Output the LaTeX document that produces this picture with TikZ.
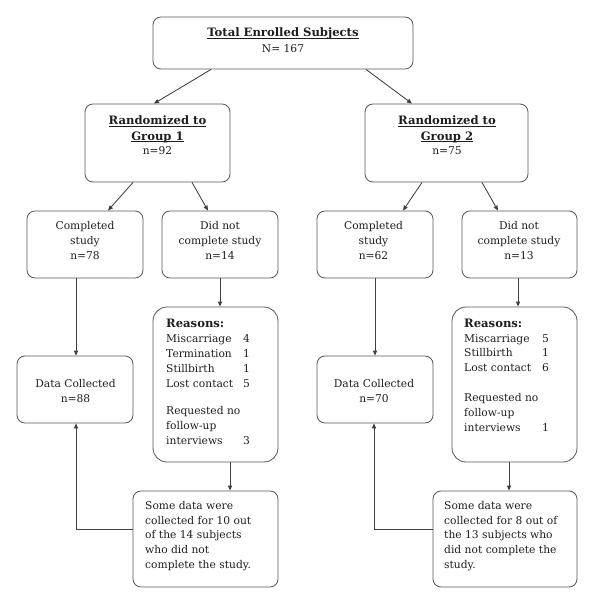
\documentclass[tikz,border=0pt]{standalone}
\usepackage{fontspec}
\setmainfont{DejaVu Serif}
\usetikzlibrary{arrows.meta,calc}
\definecolor{linecol}{HTML}{404040}
\definecolor{boxcol}{HTML}{5A5A5A}
\definecolor{txtcol}{HTML}{1E1E1E}
\newcommand\bigbold[1]{{\fontsize{11.6}{14.8}\selectfont\bfseries #1}}
\newcommand\ttlul[1]{\underline{\smash{\bigbold{#1}}}\vphantom{\bigbold{#1}}}
\begin{document}
\begin{tikzpicture}[x=1pt,y=-1pt,
  box/.style={draw=boxcol, line width=0.85pt, rounded corners=8pt, inner sep=0pt},
  txt/.style={inner sep=0pt, font=\fontsize{10.7}{14.8}\selectfont, text=txtcol, align=center},
  conn/.style={draw=linecol, line width=0.85pt, -{Triangle[length=5pt,width=4.2pt]}},
  plain/.style={draw=linecol, line width=0.85pt}]
\useasboundingbox[fill=white] (0,0) rectangle (600,611);
% boxes
\node[box, minimum width=260pt, minimum height=52pt] (tot) at (283,43) {};
\node[box, minimum width=145pt, minimum height=78pt] (g1) at (157.5,143) {};
\node[box, minimum width=163pt, minimum height=78pt] (g2) at (446.5,143) {};
\node[box, minimum width=116pt, minimum height=67pt] (c1) at (85,244.5) {};
\node[box, minimum width=116pt, minimum height=67pt] (d1) at (220,244.5) {};
\node[box, minimum width=116pt, minimum height=67pt] (c2) at (375,244.5) {};
\node[box, minimum width=115pt, minimum height=67pt] (d2) at (519.5,244.5) {};
\node[box, minimum width=125pt, minimum height=155pt, rounded corners=14pt] (r1) at (215.5,384.5) {};
\node[box, minimum width=125pt, minimum height=155pt, rounded corners=14pt] (r2) at (514.5,384.5) {};
\node[box, minimum width=116pt, minimum height=67pt] (dc1) at (75,389.5) {};
\node[box, minimum width=116pt, minimum height=67pt] (dc2) at (375,389.5) {};
\node[box, minimum width=145pt, minimum height=96pt] (s1) at (205.5,539) {};
\node[box, minimum width=144pt, minimum height=96pt] (s2) at (505,539) {};
% texts
\node[txt] (tott) at (283,40.5) {\ttlul{Total Enrolled Subjects}\\[1.5pt] N= 167};
\node[txt] (g1t) at (157.5,135.5) {\ttlul{Randomized to}\\[0.5pt] \ttlul{Group 1}\\ n=92};
\node[txt] (g2t) at (447,135.5) {\ttlul{Randomized to}\\[0.5pt] \ttlul{Group 2}\\ n=75};
\node[txt] (c1t) at (85,240.5) {Completed\\ study\\ n=78};
\node[txt] (d1t) at (220,240.5) {Did not\\ complete study\\ n=14};
\node[txt] (c2t) at (373.5,240.5) {Completed\\ study\\ n=62};
\node[txt] (d2t) at (519,240.5) {Did not\\ complete study\\ n=13};
\node[txt] (dc1t) at (75.5,391) {Data Collected\\ n=88};
\node[txt] (dc2t) at (374,391) {Data Collected\\ n=70};
\node[txt, align=left, anchor=west] (r1t) at (166,382) {\bigbold{Reasons:}\\
  \makebox[77pt][l]{Miscarriage}4\\
  \makebox[77pt][l]{Termination}1\\
  \makebox[77pt][l]{Stillbirth}1\\
  \makebox[77pt][l]{Lost contact}5\\[13pt]
  Requested no\\ follow-up\\
  \makebox[77pt][l]{interviews}3};
\node[txt, align=left, anchor=west] (r2t) at (464,375) {\bigbold{Reasons:}\\
  \makebox[78pt][l]{Miscarriage}5\\
  \makebox[78pt][l]{Stillbirth}1\\
  \makebox[78pt][l]{Lost contact}6\\[15pt]
  Requested no\\ follow-up\\
  \makebox[78pt][l]{interviews}1};
\node[txt, align=left, anchor=west] (s1t) at (145,536) {Some data were\\ collected for 10 out\\ of the 14 subjects\\ who did not\\ complete the study.};
\node[txt, align=left, anchor=west] (s2t) at (444,536) {Some data were\\ collected for 8 out of\\ the 13 subjects who\\ did not complete the\\ study.};
% connectors
\draw[conn] ([xshift=-72pt]tot.south) -- ([xshift=-3.5pt]g1.north);
\draw[conn] ([xshift=83pt]tot.south) -- ([xshift=-34.5pt]g2.north);
\draw[conn] ([xshift=-24.5pt]g1.south) -- ([xshift=23pt]c1.north);
\draw[conn] ([xshift=34.5pt]g1.south) -- ([xshift=-12pt]d1.north);
\draw[conn] ([xshift=-24.5pt]g2.south) -- ([xshift=28pt]c2.north);
\draw[conn] ([xshift=35.5pt]g2.south) -- ([xshift=-21.5pt]d2.north);
\draw[conn] ([xshift=-9pt]c1.south) -- ([xshift=1pt]dc1.north);
\draw[conn] (c2.south) -- (dc2.north);
\draw[conn] (d1.south) -- ([xshift=4.5pt]r1.north);
\draw[conn] ([xshift=-1.5pt]d2.south) -- ([xshift=3.5pt]r2.north);
\draw[conn] ([xshift=14.5pt]r1.south) -- ([xshift=24.5pt]s1.north);
\draw[conn] ([xshift=-5.5pt]r2.south) -- ([xshift=4pt]s2.north);
\draw[conn] ([yshift=10pt]s1.west) -| ([xshift=1pt]dc1.south);
\draw[conn] ([yshift=10pt]s2.west) -| ([xshift=-1pt]dc2.south);
\end{tikzpicture}
\end{document}
